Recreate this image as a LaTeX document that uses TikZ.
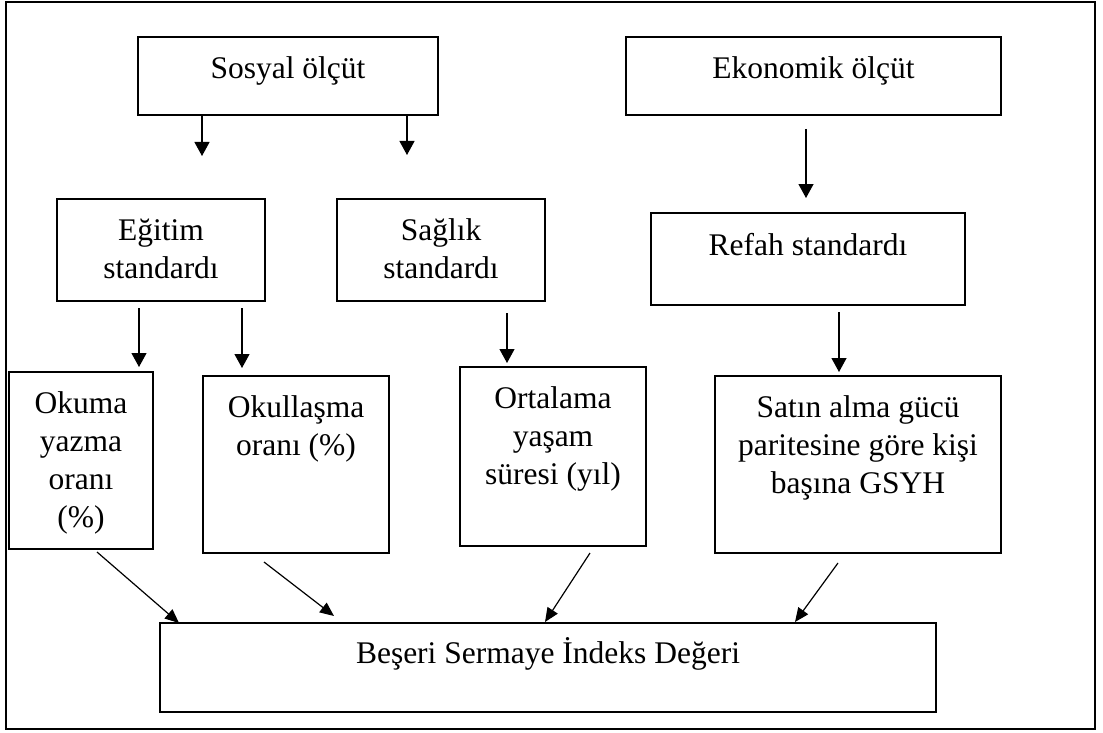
\documentclass[tikz,border=0pt]{standalone}
\usepackage{fontspec}
\setmainfont{Liberation Serif}
\usetikzlibrary{calc,arrows.meta}
\begin{document}
\begin{tikzpicture}[x=1pt,y=-1pt,
  box/.style={draw=black, line width=1.6pt, outer sep=0pt, inner sep=0pt, anchor=north west},
  txt/.style={anchor=base, inner sep=0pt, font=\fontsize{31.5}{38}\selectfont},
  arr/.style={line width=1.2pt, -{Triangle[width=15pt,length=14pt]}},
  darr/.style={line width=1.2pt, -{Triangle[width=12pt,length=14pt]}},
  frame/.style={draw=black, line width=2pt}]
\useasboundingbox (0,0) rectangle (1103,733);
\draw[frame] (6,2) rectangle (1095,729);
% boxes
\node[box, minimum width=300pt, minimum height=78pt] (sos) at (138,37) {};
\node[box, minimum width=375pt, minimum height=78pt] (eko) at (626,37) {};
\node[box, minimum width=208pt, minimum height=102pt] (egt) at (57,199) {};
\node[box, minimum width=208pt, minimum height=102pt] (sag) at (337,199) {};
\node[box, minimum width=314pt, minimum height=92pt] (ref) at (651,213) {};
\node[box, minimum width=144pt, minimum height=177pt] (oku) at (9,372) {};
\node[box, minimum width=186pt, minimum height=177pt] (okl) at (203,376) {};
\node[box, minimum width=186pt, minimum height=179pt] (ort) at (460,367) {};
\node[box, minimum width=286pt, minimum height=177pt] (sat) at (715,376) {};
\node[box, minimum width=776pt, minimum height=89pt] (bes) at (160,623) {};
% texts
\node[txt] (sosT) at (288,79) {Sosyal ölçüt};
\node[txt] (ekoT) at (813.5,79) {Ekonomik ölçüt};
\node[txt] (egtT) at (161,240) {\begin{tabular}[t]{@{}c@{}}Eğitim\\standardı\end{tabular}};
\node[txt] (sagT) at (441,240) {\begin{tabular}[t]{@{}c@{}}Sağlık\\standardı\end{tabular}};
\node[txt] (refT) at (808,255) {Refah standardı};
\node[txt] (okuT) at (81,413) {\begin{tabular}[t]{@{}c@{}}Okuma\\yazma\\oranı\\(\%)\end{tabular}};
\node[txt] (oklT) at (296,417) {\begin{tabular}[t]{@{}c@{}}Okullaşma\\oranı (\%)\end{tabular}};
\node[txt] (ortT) at (553,408) {\begin{tabular}[t]{@{}c@{}}Ortalama\\yaşam\\süresi (yıl)\end{tabular}};
\node[txt] (satT) at (858,417) {\begin{tabular}[t]{@{}c@{}}Satın alma gücü\\paritesine göre kişi\\başına GSYH\end{tabular}};
\node[txt] (besT) at (548,663) {Beşeri Sermaye İndeks Değeri};
% arrows
\draw[arr] ($(sos.south west)+(64,0)$) -- ($(egt.north west)+(145,-43)$);
\draw[arr] ($(sos.south west)+(269,0)$) -- ($(sag.north west)+(70,-44)$);
\draw[arr] ($(eko.south west)+(180,14)$) -- ($(ref.north west)+(155,-15)$);
\draw[arr] ($(egt.south west)+(82,7)$) -- ($(oku.north west)+(130,-5)$);
\draw[arr] ($(egt.south west)+(185,7)$) -- ($(okl.north west)+(39,-8)$);
\draw[arr] ($(sag.south west)+(170,12)$) -- ($(ort.north west)+(47,-4)$);
\draw[arr] ($(ref.south west)+(188,7)$) -- ($(sat.north west)+(124,-4)$);
\draw[darr] ($(oku.south west)+(88,3)$) -- ($(bes.north west)+(19,0)$);
\draw[darr] ($(okl.south west)+(61,9)$) -- ($(bes.north west)+(174,-7)$);
\draw[darr] ($(ort.south west)+(130,7)$) -- ($(bes.north west)+(385,-1)$);
\draw[darr] ($(sat.south west)+(123,10)$) -- ($(bes.north west)+(635,-1)$);
\end{tikzpicture}
\end{document}
